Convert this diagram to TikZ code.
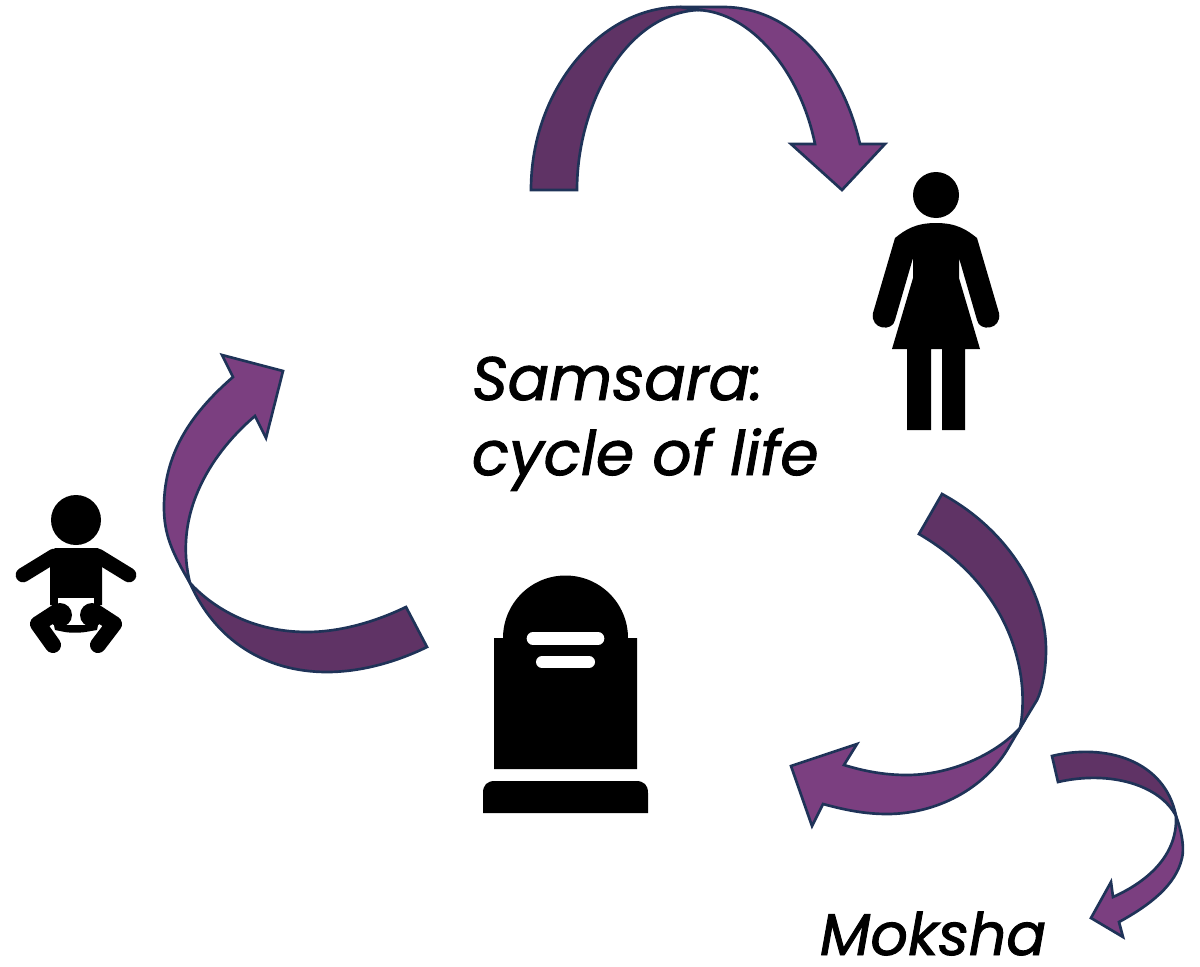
\documentclass[tikz,border=0pt]{standalone}
\usepackage{fontspec}
\setmainfont{Poppins}[ItalicFeatures={FakeBold=1.6}]
\definecolor{arrowdark}{HTML}{5F3365}
\definecolor{arrowlight}{HTML}{7B3F80}
\definecolor{arrowedge}{HTML}{1F3358}
\tikzset{
  edgeline/.style={draw=arrowedge,line width=2pt,line join=miter,miter limit=10},
  darkpart/.style={edgeline,fill=arrowdark},
  lightpart/.style={edgeline,fill=arrowlight},
  icon/.style={fill=black,draw=none},
  limb/.style={draw=black,line cap=round,line join=round},
  gap/.style={draw=white,line cap=round},
  hand/.style={inner sep=0pt,outer sep=0pt,anchor=base west,font=\fontsize{46}{46}\selectfont\itshape}
}
\begin{document}
\begin{tikzpicture}[x=0.75pt,y=-0.75pt]
\useasboundingbox (0,0) rectangle (1200,967);
% top arrow
\path[lightpart] (698,10) -- (680,7) -- (723,7) .. controls (790,7) and (842,65) .. (860,144)
  -- (885,144) -- (842,190) -- (791,144) -- (815,144)
  .. controls (800,70) and (750,12) .. (698,10) -- cycle;
\path[darkpart] (531,190) .. controls (531,90) and (600,7) .. (680,7)
  -- (698,10) .. controls (625,14) and (577,105) .. (577,190) -- cycle;
% right arrow
\path[lightpart] (1020,728) -- (1010,745)
  .. controls (985,790) and (935,814) .. (887,814)
  .. controls (865,814) and (845,810) .. (823,804)
  -- (812,826) -- (791,766) -- (857,744) -- (844,765)
  .. controls (870,773) and (890,775) .. (907,775)
  .. controls (950,775) and (995,755) .. (1020,728) -- cycle;
\path[darkpart] (942,494) .. controls (1005,528) and (1046,590) .. (1046,650)
  .. controls (1046,670) and (1042,690) .. (1037,700) -- (1020,728)
  .. controls (1030,680) and (1015,590) .. (919,534) -- cycle;
% moksha arrow
\path[lightpart] (1176,816) .. controls (1183,835) and (1184,850) .. (1182,858)
  .. controls (1176,885) and (1150,905) .. (1119,922)
  -- (1123,937) -- (1091,918) -- (1111,882) -- (1113,897)
  .. controls (1140,885) and (1178,860) .. (1176,816) -- cycle;
\path[darkpart] (1052,756) .. controls (1105,743) and (1165,760) .. (1176,816)
  .. controls (1160,785) and (1110,770) .. (1058,782) -- cycle;
% left arrow
\path[lightpart] (190,583) .. controls (172,552) and (164,535) .. (164,507)
  .. controls (164,450) and (195,410) .. (233,377)
  -- (222,355) -- (283,371) -- (266,438) -- (255,416)
  .. controls (215,450) and (172,510) .. (190,583) -- cycle;
\path[darkpart] (427,647) .. controls (390,665) and (355,672) .. (327,672)
  .. controls (265,672) and (215,640) .. (190,583)
  .. controls (215,610) and (255,632) .. (307,632)
  .. controls (340,632) and (375,622) .. (406,607) -- cycle;
% baby
\path[icon] (76,520) circle[radius=25];
\path[icon] (55,548) -- (98,548) -- (102,553) -- (102,605) -- (50,605) -- (50,553) -- cycle;
\draw[limb,line width=11pt] (54,556) -- (23,575);
\draw[limb,line width=11pt] (98,556) -- (129,575);
\draw[limb,line width=12pt] (58,611) -- (38,624) -- (53,645);
\draw[limb,line width=12pt] (94,611) -- (114,624) -- (98,645);
\path[fill=white] (58,598) rectangle (94,623);
\path[icon] (60,615) circle[radius=12];
\path[icon] (92,615) circle[radius=12];
\path[icon] (54,625) -- (98,625) -- (97,630) .. controls (85,632) and (82,633) .. (75,632.5)
  .. controls (68,633) and (65,632) .. (55,630) -- cycle;
% woman
\path[icon] (936,195) circle[radius=23];
\path[icon] (936,223) .. controls (915,223) and (905,230) .. (895,238)
  -- (873,313) .. controls (870,330) and (893,332) .. (895,320)
  -- (913,258) -- (913,278) -- (892,349) -- (907,349) -- (907,430) -- (931,430) -- (931,349)
  -- (942,349) -- (942,430) -- (965,430) -- (965,349) -- (980,349) -- (959,278) -- (959,258)
  -- (977,320) .. controls (979,332) and (1002,330) .. (999,313)
  -- (977,238) .. controls (967,230) and (957,223) .. (936,223) -- cycle;
% gravestone
\path[icon] (494,638) -- (503,638) arc[start angle=180,end angle=360,radius=62.5]
  -- (637,638) -- (637,769) -- (494,769) -- cycle;
\draw[gap,line width=9.5pt] (533,638.5) -- (598,638.5);
\draw[gap,line width=9pt] (542,662) -- (589,662);
\path[icon] (483,813) -- (483,793) .. controls (483,785) and (487,781) .. (495,781) -- (636,781)
  .. controls (644,781) and (648,785) .. (648,793) -- (648,813) -- cycle;
% text
\node[hand] (samsara) at (472,400) {Samsara:};
\node[hand] (cycle) at (472,475) {cycle of life};
\node[hand,font=\fontsize{44}{44}\selectfont\itshape] (moksha) at (820,955) {Moksha};
\end{tikzpicture}
\end{document}
